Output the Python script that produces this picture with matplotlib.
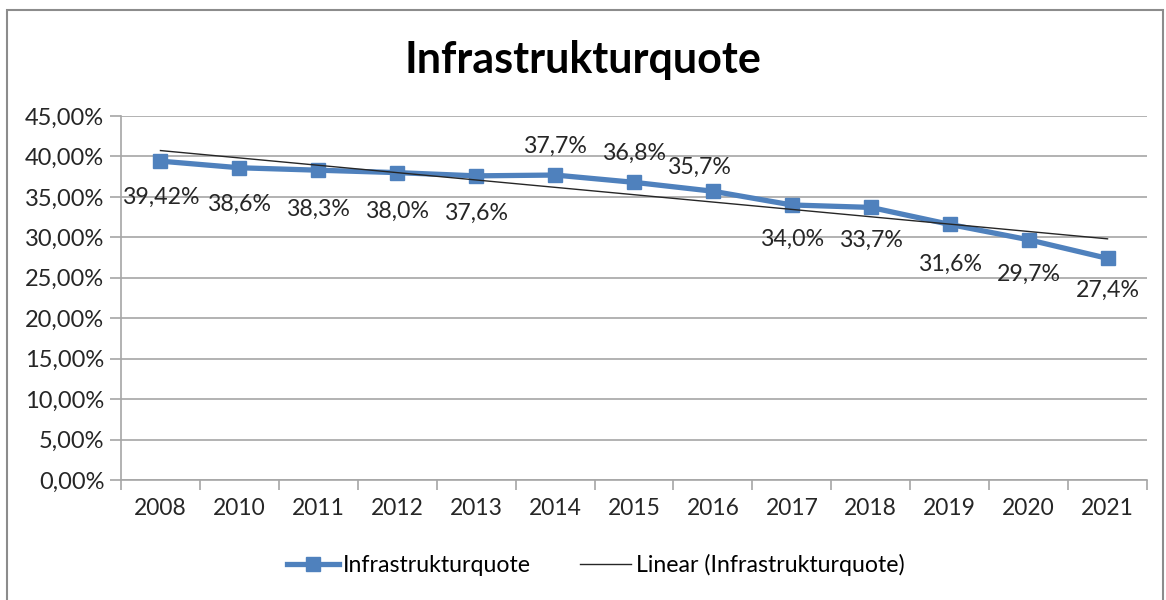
import numpy as np
import matplotlib
matplotlib.use("Agg")
import matplotlib.pyplot as plt
from matplotlib.ticker import FuncFormatter, MultipleLocator, FixedLocator
from matplotlib.patches import Rectangle

years = ["2008", "2010", "2011", "2012", "2013", "2014", "2015",
         "2016", "2017", "2018", "2019", "2020", "2021"]
quote = [39.42, 38.6, 38.3, 38.0, 37.6, 37.7, 36.8, 35.7, 34.0, 33.7, 31.6, 29.7, 27.4]
labels = ["39,42%", "38,6%", "38,3%", "38,0%", "37,6%", "37,7%", "36,8%",
          "35,7%", "34,0%", "33,7%", "31,6%", "29,7%", "27,4%"]

# Excel-style label placement (offsets in points)
label_offsets = [(0, -26), (0, -26), (0, -28), (0, -28), (0, -27), (0, 21), (0, 21),
                 (-10, 17), (0, -25), (0, -24), (0, -29), (0, -25), (0, -23)]

plt.rcParams['font.family'] = ['Lato', 'DejaVu Sans']

BLUE = '#4F81BD'
GRID = '#A6A6A6'
TXT = '#262626'


def main():
    fig = plt.figure(figsize=(11.66, 6.0), dpi=100)
    ax = fig.add_axes([121 / 1166, 0.2, (1147 - 121) / 1166, (480 - 116) / 600])

    x = np.arange(len(years))
    ax.plot(x, quote, color=BLUE, lw=3.8, marker='s', ms=10.5,
            label='Infrastrukturquote', zorder=3)

    # linear trendline
    k, d = np.polyfit(x, quote, 1)
    ax.plot(x, k * x + d, color='#262626', lw=1.0,
            label='Linear (Infrastrukturquote)', zorder=4)

    for xi, yi, txt, off in zip(x, quote, labels, label_offsets):
        ax.annotate(txt, (xi, yi), xytext=off, textcoords='offset points',
                    ha='center', va='center', fontsize=16.7, color=TXT)

    ax.set_xlim(-0.5, len(years) - 0.5)
    ax.set_ylim(0, 45)
    ax.yaxis.set_major_locator(MultipleLocator(5))
    ax.yaxis.set_major_formatter(FuncFormatter(lambda v, p: f"{v:.2f}".replace('.', ',') + '%'))
    ax.set_xticks(x)
    ax.set_xticklabels(years)
    ax.xaxis.set_minor_locator(FixedLocator(np.arange(-0.5, len(years), 1.0)))
    ax.tick_params(axis='x', which='major', length=0, pad=13, labelsize=16.4, colors=TXT)
    ax.tick_params(axis='x', which='minor', length=7, color=GRID, width=1.2)
    ax.tick_params(axis='y', which='major', length=8, color=GRID, width=1.2, pad=4,
                   labelsize=17, labelcolor=TXT)

    ax.grid(axis='y', color=GRID, lw=1.2)
    ax.set_axisbelow(True)
    for s in ['top', 'right']:
        ax.spines[s].set_visible(False)
    for s in ['left', 'bottom']:
        ax.spines[s].set_color(GRID)
        ax.spines[s].set_linewidth(1.2)

    fig.text(0.5, 0.9, 'Infrastrukturquote', ha='center', va='center',
             fontsize=31, fontweight='bold', color='black')

    fig.legend(loc='center', bbox_to_anchor=(0.511, 0.058), ncol=2, frameon=False,
               fontsize=16.7, handlelength=2.2, columnspacing=2.1, handletextpad=0.2)

    # chart area border
    fig.patches.append(Rectangle((7 / 1166, -0.05), (1163 - 7) / 1166, 1.05 - 10 / 600,
                                 transform=fig.transFigure, fill=False,
                                 edgecolor='#8C8C8C', lw=1.5))

    fig.savefig('out.png', dpi=100)


if __name__ == "__main__":
    main()
